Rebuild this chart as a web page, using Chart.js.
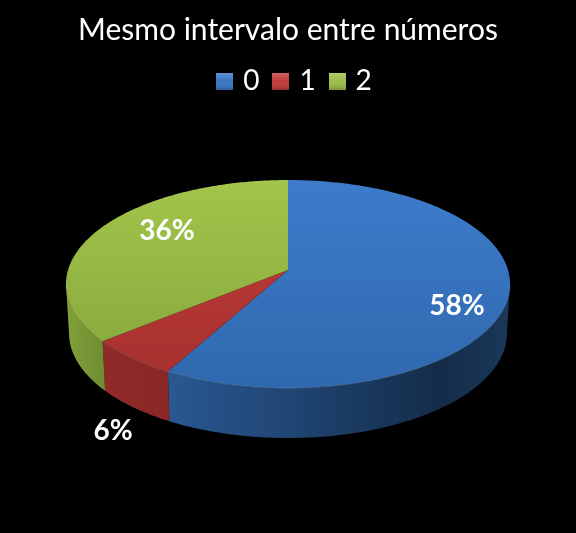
<!DOCTYPE html>
<html>
<head>
<meta charset="utf-8">
<title>Mesmo intervalo entre números</title>
<script src="https://cdn.jsdelivr.net/npm/chart.js@4/dist/chart.umd.min.js"></script>
<style>
  html, body { margin: 0; padding: 0; background: #000; }
  canvas { display: block; }
</style>
</head>
<body>
<canvas id="pie" width="576" height="533"></canvas>
<script>
const categories = ['0', '1', '2'];
const values = [58, 6, 36];
const chartTitle = 'Mesmo intervalo entre números';

const baseColors = ['#3a76c4', '#bf3a37', '#9bbd46'];
const topColors = [['#3d7ccb', '#2f68ae'], ['#c23c39', '#a5302e'], ['#a2c54b', '#85a53b']];
const wallColors = [
  [[0, '#2a5892'], [0.4, '#1e436f'], [0.8, '#142c49'], [1, '#1a3759']],
  [[0, '#8f2a28'], [1, '#8a2725']],
  [[0, '#7f9f39'], [1, '#6e8c31']]
];
const labelSpots = [[457, 306], [113, 431], [167, 231]];

// tilted disc: the slices meet above the middle of the ellipse, like a real perspective view
const cx = 288, cy = 270, rx = 220, ry = 102.1, persp = -0.1346;
const wallDepth = 49, wallInset = 3;
const hiddenFrom = 97.7 * Math.PI / 180, hiddenTo = 262.3 * Math.PI / 180;
const legendShift = 8;

function project(theta, bottom) {
  const u = Math.sin(theta), v = -Math.cos(theta);
  const d = 1 + persp * v;
  if (bottom) {
    return [cx + (rx - wallInset) * u / d, cy + ry * v / d + wallDepth + v];
  }
  return [cx + rx * u / d, cy + ry * v / d];
}

function trace(ctx, from, to, bottom) {
  const steps = Math.max(2, Math.ceil(Math.abs(to - from) * 90));
  for (let i = 0; i <= steps; i++) {
    const p = project(from + (to - from) * i / steps, bottom);
    ctx.lineTo(p[0], p[1]);
  }
}

function bevelSwatch(color) {
  const c = document.createElement('canvas');
  c.width = c.height = 17;
  const g = c.getContext('2d');
  g.fillStyle = color;
  g.fillRect(0, 0, 17, 17);
  const shade = g.createLinearGradient(0, 0, 0, 17);
  shade.addColorStop(0, 'rgba(255,255,255,0.22)');
  shade.addColorStop(0.5, 'rgba(255,255,255,0)');
  shade.addColorStop(1, 'rgba(0,0,0,0.2)');
  g.fillStyle = shade;
  g.fillRect(0, 0, 17, 17);
  return c;
}

const pie3d = {
  id: 'pie3d',
  afterLayout(chart) {
    chart.legend.left += legendShift;
    chart.legend.right += legendShift;
  },
  beforeDatasetsDraw(chart) {
    const ctx = chart.ctx;
    const arcs = chart.getDatasetMeta(0).data;
    const turn = a => a + Math.PI / 2;

    // walls
    arcs.forEach((arc, i) => {
      const a = Math.max(turn(arc.startAngle), hiddenFrom);
      const b = Math.min(turn(arc.endAngle), hiddenTo);
      if (b <= a) return;
      const stops = wallColors[i];
      const left = project(b, true)[0], right = project(a, true)[0];
      const grad = ctx.createLinearGradient(Math.min(left, right), 0, Math.max(left, right), 0);
      stops.forEach(s => grad.addColorStop(s[0], s[1]));
      ctx.beginPath();
      trace(ctx, a, b, false);
      trace(ctx, b, a, true);
      ctx.closePath();
      ctx.fillStyle = grad;
      ctx.fill();
    });

    // top face
    arcs.forEach((arc, i) => {
      const grad = ctx.createLinearGradient(0, 180, 0, 388);
      grad.addColorStop(0, topColors[i][0]);
      grad.addColorStop(1, topColors[i][1]);
      ctx.beginPath();
      ctx.moveTo(cx, cy);
      trace(ctx, turn(arc.startAngle), turn(arc.endAngle), false);
      ctx.closePath();
      ctx.fillStyle = grad;
      ctx.fill();
    });

    // thin light rim on the front edge
    ctx.beginPath();
    trace(ctx, hiddenFrom, hiddenTo, false);
    ctx.strokeStyle = 'rgba(255,255,255,0.14)';
    ctx.lineWidth = 1;
    ctx.stroke();

    // percentage labels
    const total = values.reduce((s, v) => s + v, 0);
    ctx.font = 'bold 28px Lato';
    ctx.fillStyle = '#fff';
    ctx.textAlign = 'center';
    ctx.textBaseline = 'middle';
    values.forEach((v, i) => {
      ctx.fillText(Math.round(v / total * 100) + '%', labelSpots[i][0], labelSpots[i][1]);
    });
    return false;
  }
};

new Chart(document.getElementById('pie').getContext('2d'), {
  type: 'pie',
  data: {
    labels: categories,
    datasets: [{ data: values, backgroundColor: baseColors, borderWidth: 0 }]
  },
  plugins: [pie3d],
  options: {
    responsive: false,
    animation: false,
    devicePixelRatio: 1,
    plugins: {
      tooltip: { enabled: false },
      title: {
        display: true,
        text: chartTitle,
        color: '#fff',
        font: { family: 'Lato', size: 30, weight: 'normal' },
        padding: { top: 12, bottom: 2 }
      },
      legend: {
        position: 'top',
        labels: {
          color: '#fff',
          font: { family: 'Lato', size: 28 },
          usePointStyle: true,
          pointStyleWidth: 9,
          padding: 17,
          generateLabels(chart) {
            return categories.map((c, i) => ({
              text: c,
              index: i,
              fontColor: '#fff',
              pointStyle: bevelSwatch(baseColors[i]),
              fillStyle: baseColors[i],
              lineWidth: 0
            }));
          }
        }
      }
    }
  }
});
</script>
</body>
</html>
